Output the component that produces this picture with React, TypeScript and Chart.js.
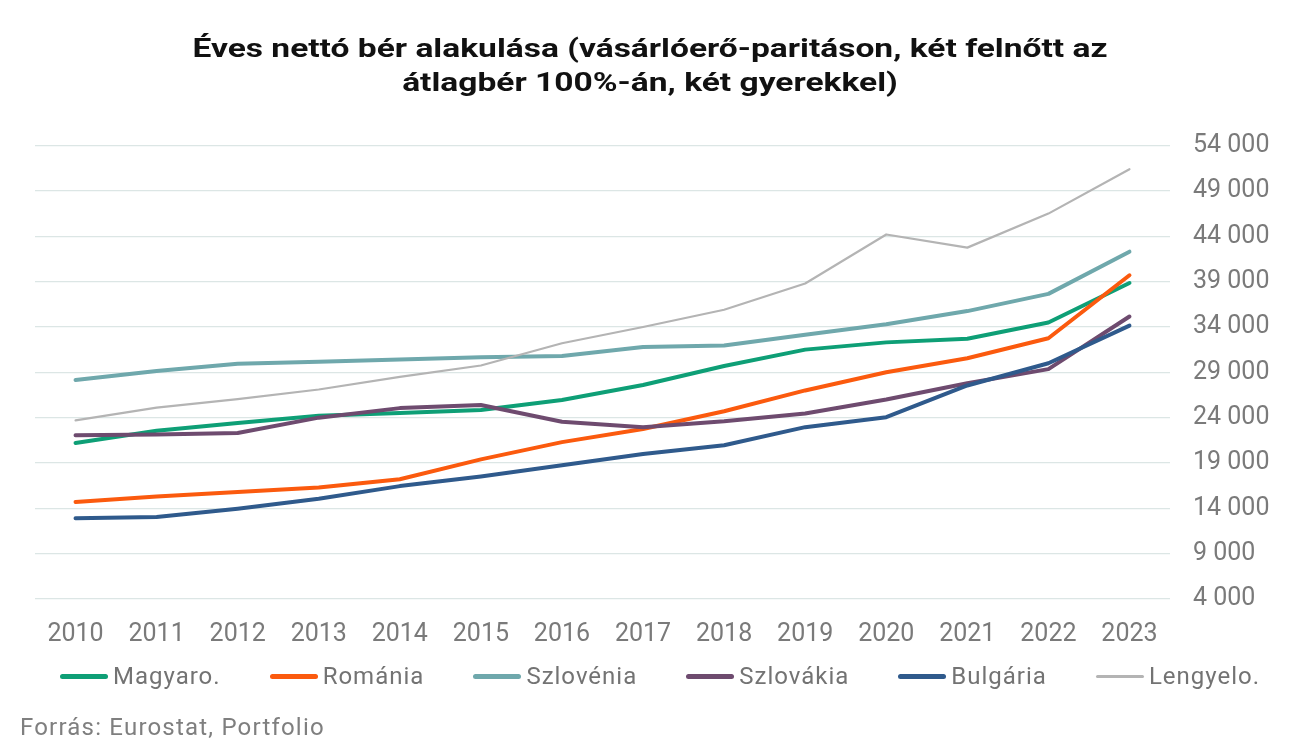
import React, { useEffect, useRef } from "react";
import { Chart, registerables } from "chart.js";

Chart.register(...registerables);

const TITLE = ["Éves nettó bér alakulása (vásárlóerő-paritáson, két felnőtt az", "átlagbér 100%-án, két gyerekkel)"];
const SOURCE = "Forrás: Eurostat, Portfolio";

const years = ["2010", "2011", "2012", "2013", "2014", "2015", "2016", "2017", "2018", "2019", "2020", "2021", "2022", "2023"];

const seriesNames = ["Magyaro.", "Románia", "Szlovénia", "Szlovákia", "Bulgária", "Lengyelo."];
const seriesColors = ["#0E9F76", "#FB5A0E", "#6FA8AC", "#6E4B6F", "#2F5A8C", "#B4B4B4"];
const seriesWidths = [4, 4, 4, 4, 4, 2.2];

const magyaro = [21200, 22550, 23400, 24200, 24500, 24850, 25950, 27600, 29700, 31500, 32300, 32700, 34500, 38850];
const romania = [14700, 15300, 15800, 16300, 17200, 19400, 21300, 22750, 24700, 27000, 29000, 30550, 32750, 39700];
const szlovenia = [28150, 29150, 29950, 30150, 30400, 30650, 30800, 31800, 31950, 33150, 34300, 35750, 37650, 42300];
const szlovakia = [22050, 22150, 22300, 24000, 25050, 25400, 23550, 22950, 23600, 24450, 26000, 27800, 29350, 35150];
const bulgaria = [12900, 13050, 13950, 15050, 16450, 17500, 18750, 20000, 20950, 22950, 24050, 27550, 30000, 34150];
const lengyelo = [23700, 25100, 26050, 27100, 28500, 29750, 32200, 34000, 35900, 38800, 44200, 42750, 46500, 51400];

const seriesValues = [magyaro, romania, szlovenia, szlovakia, bulgaria, lengyelo];

const Y_MIN = 4000;
const Y_MAX = 54000;
const Y_STEP = 5000;

const fmt = (v: number) => String(v).replace(/\B(?=(\d{3})+(?!\d))/g, " ");

// Stretches the title horizontally (the reference uses a wide heavy face).
const titleStretch = {
  id: "titleStretch",
  afterInit(chart: any) {
    const tb = chart.titleBlock;
    if (!tb) return;
    const orig = tb.draw.bind(tb);
    tb.draw = (...args: any[]) => {
      const ctx = chart.ctx;
      const cx = (tb.left + tb.right) / 2;
      ctx.save();
      ctx.translate(650, 0);
      ctx.scale(1.29, 1);
      ctx.translate(-cx, 0);
      orig(...args);
      ctx.restore();
    };
  },
};

export default function App() {
  const ref = useRef<HTMLCanvasElement | null>(null);

  useEffect(() => {
    if (!ref.current) return;
    const chart = new Chart(ref.current, {
      type: "line",
      data: {
        labels: years,
        datasets: seriesNames.map((name, i) => ({
          label: name,
          data: seriesValues[i],
          borderColor: seriesColors[i],
          backgroundColor: seriesColors[i],
          borderWidth: seriesWidths[i],
          pointRadius: 0,
          pointHoverRadius: 0,
          tension: 0,
          fill: false,
          borderCapStyle: "round" as const,
          borderJoinStyle: "round" as const,
          order: seriesNames.length - i,
        })),
      },
      options: {
        responsive: false,
        animation: false,
        events: [],
        layout: { padding: { left: 35, right: 23, top: 0, bottom: 79 } },
        plugins: {
          legend: { display: false },
          tooltip: { enabled: false },
          title: {
            display: true,
            text: TITLE,
            color: "#111111",
            font: { family: "Roboto", size: 26, weight: "bold", lineHeight: 1.3 },
            padding: { top: 34, bottom: 44 },
          },
        },
        scales: {
          x: {
            type: "category",
            offset: true,
            grid: { display: false, drawTicks: false },
            border: { display: false },
            ticks: {
              color: "#7a7a7a",
              font: { family: "Roboto", size: 25 },
              padding: 21,
              maxRotation: 0,
              autoSkip: false,
            },
          },
          y: {
            position: "right",
            min: Y_MIN,
            max: Y_MAX,
            grid: { color: "#dce6e5", lineWidth: 1.2, drawTicks: false },
            border: { display: false },
            afterFit: (scale: any) => {
              scale.width = 105;
            },
            ticks: {
              stepSize: Y_STEP,
              color: "#7a7a7a",
              font: { family: "Roboto", size: 25 },
              padding: 23,
              callback: (v: any) => fmt(Number(v)),
            },
          },
        },
      },
      plugins: [titleStretch],
    });
    return () => chart.destroy();
  }, []);

  return (
    <div style={{ position: "absolute", left: 0, top: 0, width: 1298, height: 750, background: "#fff", fontFamily: "Roboto" }}>
      <canvas ref={ref} width={1298} height={750} style={{ position: "absolute", left: 0, top: 0 }} />
      <div
        style={{
          position: "absolute",
          left: 60,
          top: 661,
          height: 30,
          display: "flex",
          alignItems: "center",
          gap: 49,
          fontSize: 24,
          letterSpacing: "1px",
          color: "#737373",
          whiteSpace: "nowrap",
        }}
      >
        {seriesNames.map((name, i) => (
          <div key={name} style={{ display: "flex", alignItems: "center" }}>
            <span
              style={{
                display: "inline-block",
                width: 48,
                height: i === seriesNames.length - 1 ? 3 : 5,
                borderRadius: 3,
                background: seriesColors[i],
                marginRight: 5,
              }}
            />
            <span>{name}</span>
          </div>
        ))}
      </div>
      <div
        style={{
          position: "absolute",
          left: 20,
          top: 712,
          fontSize: 24,
          letterSpacing: "1.2px",
          color: "#7f7f7f",
          whiteSpace: "nowrap",
          lineHeight: "30px",
        }}
      >
        {SOURCE}
      </div>
    </div>
  );
}
